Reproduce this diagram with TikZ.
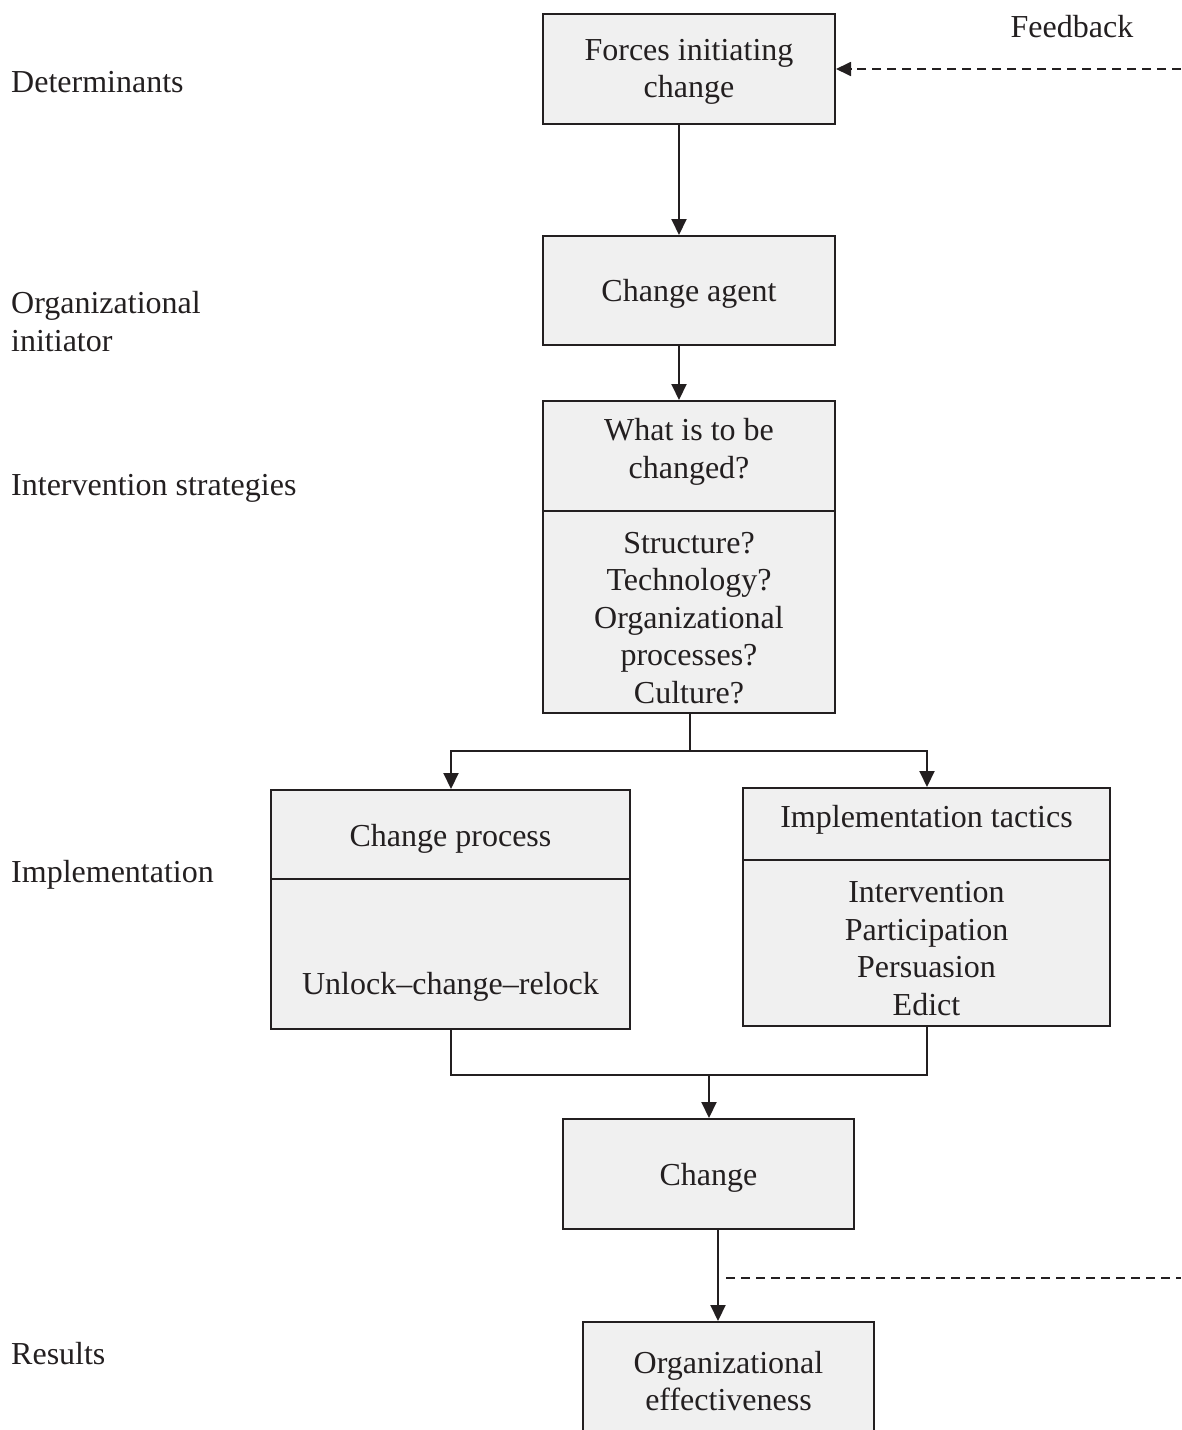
\documentclass[tikz,border=0pt]{standalone}
\usepackage{fontspec}
\setmainfont{Liberation Serif}
\usetikzlibrary{arrows.meta}
\definecolor{boxgray}{RGB}{240,240,240}
\definecolor{ink}{RGB}{35,31,32}
\begin{document}
\begin{tikzpicture}[x=1pt,y=-1pt,
  box/.style={draw=ink,line width=2pt,fill=boxgray,inner sep=0pt},
  lbl/.style={font=\fontsize{32}{37.5}\selectfont,align=center,inner sep=0pt,text=ink},
  side/.style={lbl,align=left,anchor=west},
  link/.style={draw=ink,line width=2pt,-{Triangle[length=16pt,width=15pt]}},
  wire/.style={draw=ink,line width=2pt},
  fb/.style={draw=ink,line width=1.8pt,dash pattern=on 9pt off 6pt}]
\useasboundingbox (0,0) rectangle (1181,1430);

% stage labels on the left
\node[side] (ldet) at (11,82) {Determinants};
\node[side] (linit) at (11,321.5) {Organizational\\initiator};
\node[side] (lint) at (11,488) {Intervention strategies};
\node[side] (limp) at (11,875) {Implementation};
\node[side] (lres) at (11,1354) {Results};
\node[lbl] (lfb) at (1072,27) {Feedback};

% single boxes
\node[box,minimum width=292pt,minimum height=110pt] (forces) at (689,69) {};
\node[lbl] (forcest) at (689,72) {Forces initiating\\change};
\node[box,minimum width=292pt,minimum height=109pt] (agent) at (689,290.5) {};
\node[lbl] (agentt) at (689,294) {Change agent};
\node[box,minimum width=291pt,minimum height=110pt] (change) at (708.5,1174) {};
\node[lbl] (changet) at (708.5,1178) {Change};
\node[box,minimum width=291pt,minimum height=130pt] (eff) at (728.5,1387) {};
\node[lbl] (efft) at (728.5,1381) {Organizational\\effectiveness};

% what is to be changed
\node[box,minimum width=292pt,minimum height=312pt] (what) at (689,557) {};
\draw[wire] (what.west |- 0,511) -- (what.east |- 0,511);
\node[lbl] (whatt) at (689,452) {What is to be\\changed?};
\node[lbl] (whatb) at (689,618) {Structure?\\Technology?\\Organizational\\processes?\\Culture?};

% change process
\node[box,minimum width=359pt,minimum height=239pt] (proc) at (450.5,909.5) {};
\draw[wire] (proc.west |- 0,879) -- (proc.east |- 0,879);
\node[lbl] (proct) at (450.5,839) {Change process};
\node[lbl] (procb) at (450.5,987) {Unlock--change--relock};

% implementation tactics
\node[box,minimum width=367pt,minimum height=238pt] (tact) at (926.5,907) {};
\draw[wire] (tact.west |- 0,860) -- (tact.east |- 0,860);
\node[lbl] (tactt) at (926.5,820) {Implementation tactics};
\node[lbl] (tactb) at (926.5,948.5) {Intervention\\Participation\\Persuasion\\Edict};

% connectors
\draw[link] (forces.south -| 679,0) -- (agent.north -| 679,0);
\draw[link] (agent.south -| 679,0) -- (what.north -| 679,0);
\coordinate (split) at (690,751);
\draw[wire] (what.south -| split) -- (split);
\draw[link] (split) -| (proc.north -| 451,0);
\draw[link] (split) -| (tact.north -| 927,0);
\coordinate (join) at (709,1075);
\draw[wire] (proc.south -| 451,0) |- (join);
\draw[wire] (tact.south -| 927,0) |- (join);
\draw[link] (join) -- (change.north -| join);
\draw[link] (change.south -| 718,0) -- (eff.north -| 718,0);

% feedback loop
\coordinate (fbin) at (1181,1278);
\coordinate (fbtap) at (726,1278);
\coordinate (fbout) at (1181,69);
\draw[fb] (fbtap) -- (fbin);
\draw[fb,-{Triangle[length=15pt,width=14pt]}] (fbout) -- (forces.east);
\end{tikzpicture}
\end{document}
